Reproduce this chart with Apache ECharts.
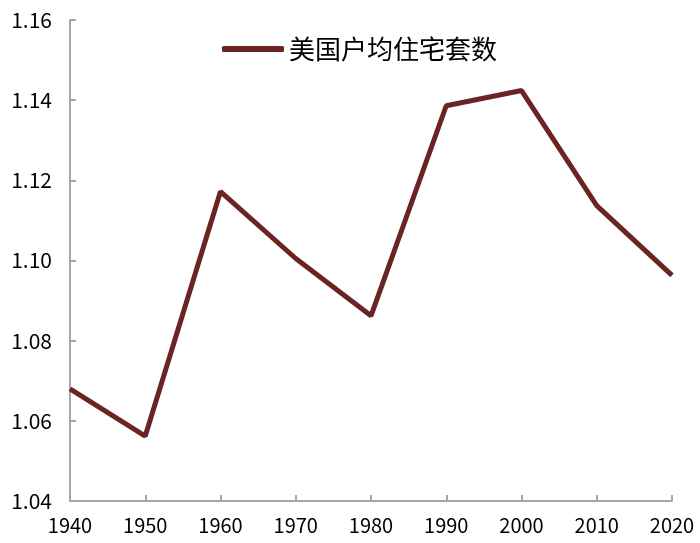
<!DOCTYPE html>
<html>
<head>
<meta charset="utf-8">
<script src="https://cdn.jsdelivr.net/npm/echarts@6/dist/echarts.min.js"></script>
<style>
  html, body { margin: 0; padding: 0; background: #fff; }
  #chart { width: 700px; height: 543px; }
</style>
</head>
<body>
<div id="chart"></div>
<script>
// 美国户均住宅套数
var years = ['1940', '1950', '1960', '1970', '1980', '1990', '2000', '2010', '2020'];
var perHousehold = [1.068, 1.0562, 1.1172, 1.1005, 1.0862, 1.1386, 1.1424, 1.1137, 1.0963];
var seriesName = '美国户均住宅套数';

var chart = echarts.init(document.getElementById('chart'));
var axisGrey = '#a6a6a6';
var option = {
    animation: false,
    backgroundColor: '#fff',
    grid: { left: 70, right: 28, top: 20, bottom: 42, containLabel: false },
    legend: {
        data: [seriesName],
        left: 217,
        top: 31,
        itemWidth: 62,
        itemHeight: 6,
        itemGap: 5,
        icon: 'roundRect',
        textStyle: { fontSize: 26, color: '#000', fontFamily: 'Noto Sans CJK SC' }
    },
    xAxis: {
        type: 'category',
        data: years,
        boundaryGap: false,
        axisLine: { lineStyle: { color: axisGrey, width: 2 } },
        axisTick: { inside: true, length: 6, lineStyle: { color: axisGrey, width: 2 } },
        axisLabel: { fontSize: 20, color: '#000', margin: 14, fontFamily: 'Noto Sans CJK SC' },
        splitLine: { show: false }
    },
    yAxis: {
        type: 'value',
        min: 1.04,
        max: 1.16,
        interval: 0.02,
        axisLine: { show: true, lineStyle: { color: axisGrey, width: 2 } },
        axisTick: { show: true, inside: true, length: 6, lineStyle: { color: axisGrey, width: 2 } },
        axisLabel: {
            fontSize: 21, color: '#000', margin: 18, fontFamily: 'Noto Sans CJK SC',
            formatter: function (v) { return v.toFixed(2); }
        },
        splitLine: { show: false }
    },
    series: [
        {
            name: seriesName,
            type: 'line',
            data: perHousehold,
            symbol: 'none',
            color: '#6b2424',
            lineStyle: { color: '#6b2424', width: 5 }
        }
    ]
};
chart.setOption(option);
</script>
</body>
</html>
